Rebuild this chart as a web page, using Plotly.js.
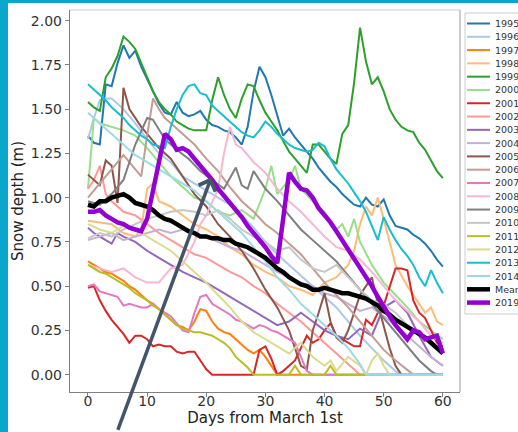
<!DOCTYPE html>
<html><head><meta charset="utf-8">
<script src="https://cdn.plot.ly/plotly-3.0.1.min.js"></script>
<style>html,body{margin:0;padding:0;background:#fff;}#chart{width:518px;height:432px;}</style>
</head><body><div id="chart"></div>
<script>
// ---------- data ----------
const days = [0,1,2,3,4,5,6,7,8,9,10,11,12,13,14,15,16,17,18,19,20,21,22,23,24,25,26,27,28,29,30,31,32,33,34,35,36,37,38,39,40,41,42,43,44,45,46,47,48,49,50,51,52,53,54,55,56,57,58,59,60];

const y1995 = [1.35,1.31,1.30,1.64,1.63,1.76,1.86,1.79,1.83,1.74,
  1.67,1.60,1.53,1.48,1.47,1.54,1.48,1.46,1.47,1.49,
  1.44,1.41,1.40,1.38,1.37,1.34,1.30,1.40,1.60,1.74,
  1.68,1.58,1.46,1.35,1.39,1.34,1.30,1.26,1.22,1.17,
  1.13,1.09,1.06,1.02,0.99,0.96,0.95,1.00,0.96,0.95,
  0.99,0.90,0.84,0.83,0.82,0.79,0.77,0.74,0.70,0.65,0.61];

const x1996 = [0,1,2,3,4,6,8,10,12,14,16,18,20,22,24,26,28,30,32,34,36,38,40,42,44,46,48,50,52,53,60];
const y1996 = [1.33,1.45,1.55,1.56,1.56,1.50,1.42,1.33,1.25,1.20,1.12,1.08,1.04,1.00,0.96,0.90,0.83,0.75,0.68,0.62,0.56,0.50,0.44,0.38,0.30,0.22,0.15,0.08,0.02,0,0];

const x1997 = [0,1,2,3,4,5,6,7,8,9,10,11,12,13,14,15,16,17,18,19,20,21,22,23,24,25,26,27,28,29,30,31,32,60];
const y1997 = [0.64,0.62,0.60,0.58,0.57,0.55,0.53,0.50,0.48,0.45,
  0.42,0.40,0.37,0.34,0.31,0.28,0.27,0.25,0.30,0.37,
  0.36,0.30,0.26,0.24,0.23,0.20,0.17,0.14,0.12,0.14,
  0.10,0.05,0,0];

const x1998 = [0,2,4,6,8,9,10,11,12,14,16,18,20,22,24,26,28,30,32,34,36,38,40,42,44,45,46,47,48,49,50,51,52,54,56,57,58,59,60];
const y1998 = [0.87,0.86,0.85,0.80,0.78,0.82,1.05,1.08,0.98,0.95,0.90,0.85,0.82,0.78,0.72,0.68,0.62,0.58,0.55,0.50,0.48,0.45,0.52,0.55,0.62,0.70,0.85,0.95,0.90,1.00,0.88,0.75,0.62,0.50,0.40,0.35,0.38,0.30,0.28];

const y1999 = [1.54,1.51,1.49,1.68,1.73,1.80,1.91,1.88,1.84,1.76,
  1.68,1.60,1.54,1.50,1.47,1.43,1.41,1.39,1.38,1.38,
  1.38,1.55,1.68,1.58,1.50,1.45,1.56,1.64,1.63,1.55,
  1.48,1.43,1.38,1.32,1.26,1.22,1.18,1.14,1.30,1.30,
  1.26,1.22,1.19,1.36,1.41,1.65,1.96,1.77,1.64,1.68,
  1.60,1.50,1.44,1.40,1.38,1.37,1.31,1.27,1.21,1.15,1.11];

const x2000 = [0,1,2,4,6,8,10,12,14,16,18,20,22,24,26,28,30,31,32,34,35,36,38,40,42,43,44,45,46,48,50,52,54,56,58,60];
const y2000 = [1.05,1.45,1.42,1.40,1.38,1.35,1.28,1.20,1.12,1.06,1.00,0.98,0.92,0.90,0.93,0.88,1.05,1.18,1.02,1.10,1.18,1.05,0.98,0.92,0.82,0.85,0.78,0.88,0.75,0.62,0.52,0.45,0.38,0.30,0.25,0.20];

const x2001 = [0,1,2,3,4,5,6,7,8,9,10,11,12,13,14,15,16,17,18,19,20,21,28,29,30,31,32,33,34,35,36,37,38,39,40,41,42,43,44,45,46,47,48,49,50,51,52,53,54,55,56,57,58,59,60];
const y2001 = [0.49,0.50,0.42,0.36,0.31,0.27,0.23,0.18,0.22,0.22,0.20,0.16,0.17,0.16,0.16,0.13,0.12,0.13,0.13,0.08,0.03,0,
  0,0.14,0.16,0.09,0,0.02,0.05,0.08,0.15,0.22,0.18,0.20,0.25,0.29,0.22,0.20,0.18,0.16,0.16,0.31,0.28,0.35,0.39,0.50,0.60,0.60,0.59,0.42,0.35,0.32,0.25,0.18,0.16];

const x2002 = [0,1,2,3,4,6,8,10,12,14,16,18,20,22,24,26,28,30,32,34,36,38,40,42,44,46,60];
const y2002 = [1.05,1.10,1.18,1.02,0.98,0.92,0.90,0.85,0.80,0.76,0.72,0.68,0.66,0.62,0.58,0.55,0.50,0.46,0.40,0.35,0.30,0.24,0.18,0.12,0.06,0,0];

const x2003 = [0,1,2,3,4,5,6,8,10,12,14,16,18,20,22,24,26,28,30,32,34,36,38,40,42,44,46,48,50,52,54,56,58,60];
const y2003 = [0.83,0.80,0.78,0.76,0.74,0.80,0.78,0.75,0.70,0.66,0.62,0.58,0.55,0.52,0.48,0.44,0.40,0.36,0.32,0.28,0.30,0.35,0.30,0.25,0.22,0.20,0.26,0.22,0.38,0.42,0.35,0.22,0.10,0.05];

const x2004 = [0,2,4,6,8,10,12,14,16,18,20,22,24,26,28,30,32,34,36,38,40,42,44,46,48,50,52,54,56,58,60];
const y2004 = [0.76,0.78,0.80,0.76,0.78,0.80,0.82,0.80,0.82,0.80,0.78,0.75,0.72,0.70,0.66,0.62,0.58,0.55,0.52,0.50,0.46,0.44,0.40,0.36,0.38,0.33,0.28,0.22,0.16,0.10,0.05];

const x2005 = [0,1,2,3,4,5,6,7,8,9,10,12,14,16,18,20,22,24,26,28,30,32,34,35,36,37,38,39,40,41,42,43,44,45,46,47,48,49,50,51,52,53,60];
const y2005 = [1.13,1.10,1.07,1.21,1.18,0.97,1.62,1.50,1.45,1.40,1.36,1.28,1.22,1.12,1.02,0.95,0.85,0.78,0.70,0.60,0.48,0.38,0.25,0.15,0.05,0.03,0.25,0.35,0.46,0.30,0.21,0.18,0.25,0.35,0.45,0.50,0.55,0.40,0.27,0.15,0.05,0,0];

const x2006 = [0,2,4,5,6,7,8,9,10,11,12,13,14,16,18,20,22,24,26,28,30,32,34,36,38,40,42,44,46,48,50,52,54,55,60];
const y2006 = [1.00,1.08,1.16,1.20,1.24,1.20,1.16,1.12,1.35,1.56,1.50,1.45,1.42,1.36,1.30,1.22,1.15,1.06,0.98,0.92,0.85,0.80,0.74,0.68,0.60,0.52,0.45,0.38,0.30,0.22,0.14,0.08,0.03,0,0];

const x2007 = [0,1,2,3,4,5,6,7,8,9,10,11,12,13,14,15,16,17,18,19,20,21,22,23,24,25,26,27,28,29,30,31,32,33,34,35,36,37,38,60];
const y2007 = [0.50,0.51,0.47,0.46,0.45,0.44,0.39,0.40,0.39,0.38,
  0.38,0.40,0.37,0.35,0.33,0.29,0.25,0.24,0.35,0.44,
  0.45,0.40,0.38,0.36,0.34,0.31,0.30,0.28,0.26,0.28,
  0.27,0.25,0.24,0.22,0.20,0.18,0.10,0.02,0,0];

const x2008 = [0,2,4,6,8,10,12,14,16,18,19,20,22,23,24,25,26,28,30,32,34,36,38,40,42,44,46,48,50,52,54,56,58,60];
const y2008 = [0.62,0.60,0.58,0.60,0.55,0.52,0.52,0.60,0.62,0.75,0.85,0.90,1.05,1.25,1.40,1.30,1.28,1.20,1.14,1.05,0.98,0.92,0.85,0.78,0.72,0.70,0.65,0.58,0.50,0.42,0.36,0.30,0.22,0.18];

const x2009 = [0,2,4,6,8,10,11,13,15,17,19,21,22,23,25,26,27,28,29,30,32,34,36,38,40,42,44,46,48,50,52,54,56,58,59,60];
const y2009 = [0.98,0.96,1.02,1.10,1.30,1.45,1.44,1.33,1.27,1.22,1.15,1.10,1.08,1.05,1.17,1.07,1.05,1.15,1.10,1.05,0.98,0.90,0.82,0.76,0.70,0.64,0.56,0.48,0.40,0.32,0.24,0.16,0.08,0.02,0,0];

const x2010 = [0,2,4,6,8,10,12,14,16,18,20,22,24,26,28,30,32,34,36,38,40,42,44,46,48,50,52,54,56,58,60];
const y2010 = [0.77,0.80,0.78,0.82,0.85,0.88,0.90,0.92,0.93,0.92,0.90,0.93,0.88,0.82,0.78,0.75,0.70,0.72,0.65,0.60,0.58,0.62,0.55,0.48,0.42,0.40,0.35,0.28,0.22,0.18,0.12];

const x2011 = [0,1,2,3,4,5,6,7,8,9,10,11,12,13,14,15,16,17,18,19,20,21,22,23,24,25,26,27,28,34,35,36,40,41,42,60];
const y2011 = [0.62,0.60,0.58,0.57,0.55,0.53,0.51,0.49,0.46,0.44,
  0.42,0.39,0.37,0.34,0.31,0.28,0.26,0.25,0.24,0.24,
  0.23,0.22,0.20,0.18,0.15,0.10,0.07,0.04,0,
  0,0.05,0,0,0.05,0,0];

const x2012 = [0,2,4,6,8,10,12,14,16,18,20,22,24,26,28,30,32,34,36,38,40,41,42,44,46,47,48,49,50,51,60];
const y2012 = [0.85,0.82,0.80,0.84,0.82,0.78,0.74,0.70,0.64,0.58,0.52,0.45,0.38,0.30,0.24,0.20,0.16,0.12,0.18,0.10,0.05,0.08,0.02,0.10,0.05,0,0.08,0.12,0.05,0,0];

const y2013 = [1.64,1.61,1.58,1.55,1.51,1.48,1.45,1.41,1.38,1.35,
  1.33,1.30,1.29,1.28,1.40,1.50,1.58,1.63,1.64,1.59,
  1.58,1.52,1.49,1.46,1.43,1.40,1.37,1.35,1.34,1.38,
  1.43,1.40,1.36,1.33,1.30,1.28,1.27,1.26,1.27,1.31,
  1.29,1.22,1.16,1.12,1.08,1.03,0.98,0.92,0.84,0.76,
  0.89,0.82,0.76,0.71,0.67,0.62,0.55,0.50,0.59,0.52,0.46];

const x2014 = [0,2,4,6,8,10,12,14,16,18,20,22,24,26,28,30,32,34,36,38,40,42,44,46,47,60];
const y2014 = [1.48,1.42,1.36,1.30,1.24,1.20,1.16,1.12,1.08,1.04,0.98,0.92,0.86,0.80,0.72,0.64,0.55,0.48,0.40,0.34,0.28,0.22,0.15,0.06,0,0];

const yMean = [0.96,0.95,0.98,0.98,1.00,1.01,1.02,1.00,0.97,0.96,
  0.95,0.93,0.90,0.88,0.87,0.85,0.83,0.81,0.80,0.78,
  0.78,0.77,0.77,0.76,0.76,0.74,0.73,0.72,0.70,0.68,
  0.66,0.63,0.60,0.58,0.55,0.53,0.51,0.50,0.48,0.48,
  0.49,0.48,0.47,0.46,0.46,0.45,0.44,0.43,0.41,0.39,
  0.36,0.34,0.31,0.29,0.27,0.25,0.23,0.21,0.18,0.15,0.12];

const y2019 = [0.92,0.92,0.93,0.90,0.88,0.86,0.85,0.83,0.82,0.81,
  0.88,1.05,1.22,1.36,1.33,1.27,1.28,1.26,1.22,1.18,
  1.14,1.10,1.05,1.01,0.97,0.93,0.89,0.84,0.80,0.76,
  0.72,0.67,0.63,0.88,1.14,1.09,1.05,1.04,1.00,0.94,
  0.90,0.86,0.81,0.76,0.71,0.66,0.61,0.56,0.50,0.44,
  0.38,0.33,0.28,0.24,0.20,0.25,0.24,0.20,0.21,0.22,0.12];

const seriesNames = ['1995','1996','1997','1998','1999','2000','2001','2002','2003','2004','2005','2006','2007','2008','2009','2010','2011','2012','2013','2014','Mean','2019'];
const seriesX = [days,x1996,x1997,x1998,days,x2000,x2001,x2002,x2003,x2004,x2005,x2006,x2007,x2008,x2009,x2010,x2011,x2012,days,x2014,days,days];
const seriesY = [y1995,y1996,y1997,y1998,y1999,y2000,y2001,y2002,y2003,y2004,y2005,y2006,y2007,y2008,y2009,y2010,y2011,y2012,y2013,y2014,yMean,y2019];
const seriesColors = ['#1f77b4','#aec7e8','#ff7f0e','#ffbb78','#2ca02c','#98df8a','#d62728','#ff9896','#9467bd','#c5b0d5','#8c564b','#c49c94','#e377c2','#f7b6d2','#7f7f7f','#c7c7c7','#bcbd22','#dbdb8d','#17becf','#9edae5','#000000','#9400d3'];

const xTicks = [0,10,20,30,40,50,60];
const yTicks = [0,0.25,0.5,0.75,1.0,1.25,1.5,1.75,2.0];

// ---------- layout helpers ----------
const W=518,H=432,ML=70,MR=58,MT=10,MB=40;
const PW=W-ML-MR, PH=H-MT-MB;
function px(x){return (x-ML)/PW;}
function py(y){return (H-MB-y)/PH;}
const FONT='DejaVu Sans, sans-serif';

const traces = seriesNames.map((n,i)=>({
  type:'scatter', mode:'lines', name:n, x:seriesX[i], y:seriesY[i],
  line:{color:seriesColors[i], width:(n==='Mean'||n==='2019')?4.5:2},
  hoverinfo:'skip', showlegend:false
}));

const shapes = [
  {type:'rect',xref:'paper',yref:'paper',x0:px(-5),x1:px(8),y0:py(440),y1:py(-5),fillcolor:'#0aa6cb',line:{width:0},layer:'below'},
  {type:'rect',xref:'paper',yref:'paper',x0:px(-5),x1:px(525),y0:py(3),y1:py(-5),fillcolor:'#0aa6cb',line:{width:0},layer:'below'},
  {type:'line',xref:'paper',yref:'paper',x0:0,x1:1,y0:1,y1:1,line:{color:'#cccccc',width:1.2}},
  {type:'line',xref:'paper',yref:'paper',x0:1,x1:1,y0:0,y1:1,line:{color:'#aaaaaa',width:1.2}},
  {type:'rect',xref:'paper',yref:'paper',x0:px(465),x1:px(545),y0:py(314),y1:py(13),fillcolor:'rgba(255,255,255,0.9)',line:{color:'#cccccc',width:1}}
];
const annotations = [];
seriesNames.forEach((n,i)=>{
  const yc = 23.5 + 13.29*i;
  shapes.push({type:'line',xref:'paper',yref:'paper',x0:px(467),x1:px(490),y0:py(yc),y1:py(yc),
    line:{color:seriesColors[i],width:(n==='Mean'||n==='2019')?4.5:2}});
  annotations.push({xref:'paper',yref:'paper',x:px(493),y:py(yc),xanchor:'left',yanchor:'middle',
    text:n,showarrow:false,font:{family:FONT,size:9.5,color:'#333333'}});
});
annotations.push({xref:'x',yref:'y',x:20.85,y:1.115,text:'',showarrow:true,
  ax:-94,ay:254,arrowhead:4,arrowsize:1,arrowwidth:3.5,arrowcolor:'#44546a',standoff:0});

const layout = {
  width:W,height:H,margin:{l:ML,r:MR,t:MT,b:MB,pad:0},
  paper_bgcolor:'#ffffff',plot_bgcolor:'#ffffff',showlegend:false,hovermode:false,
  font:{family:FONT,color:'#333333'},
  xaxis:{range:[-3.04,62.9],tickvals:xTicks,ticks:'outside',ticklen:4,tickwidth:1,tickcolor:'#808080',
    showline:true,linecolor:'#808080',linewidth:1.2,showgrid:false,zeroline:false,ticklabelstandoff:-8,
    tickfont:{family:FONT,size:14,color:'#333333'},
    title:{text:'Days from March 1st',font:{family:FONT,size:15,color:'#222222'},standoff:4}},
  yaxis:{range:[-0.098,2.06],tickvals:yTicks,tickformat:'.2f',ticks:'outside',ticklen:4,tickwidth:1,tickcolor:'#808080',
    showline:true,linecolor:'#808080',linewidth:1.2,showgrid:false,zeroline:false,
    tickfont:{family:FONT,size:14,color:'#333333'},
    title:{text:'Snow depth (m)',font:{family:FONT,size:15,color:'#222222'},standoff:3}},
  shapes:shapes, annotations:annotations
};
Plotly.newPlot('chart',traces,layout,{staticPlot:true,displayModeBar:false});
</script></body></html>
